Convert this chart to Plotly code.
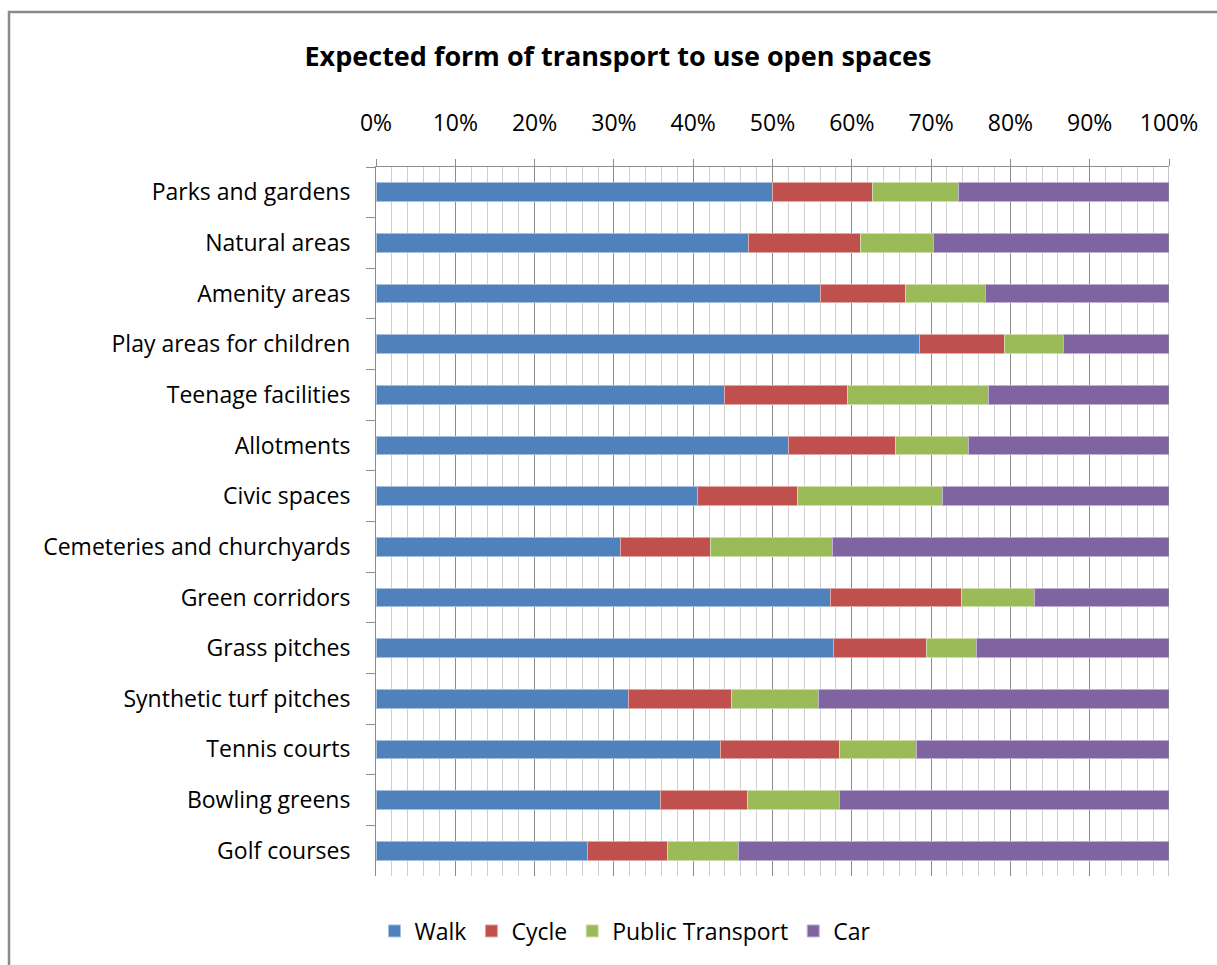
import plotly.graph_objects as go

categories = ["Parks and gardens", "Natural areas", "Amenity areas", "Play areas for children",
              "Teenage facilities", "Allotments", "Civic spaces", "Cemeteries and churchyards",
              "Green corridors", "Grass pitches", "Synthetic turf pitches", "Tennis courts",
              "Bowling greens", "Golf courses"]
walk = [50.0, 47.0, 56.0, 68.5, 43.9, 52.0, 40.6, 30.8, 57.3, 57.7, 31.8, 43.5, 35.9, 26.7]
cycle = [12.6, 14.1, 10.8, 10.7, 15.6, 13.5, 12.6, 11.4, 16.5, 11.7, 13.0, 14.9, 10.9, 10.1]
public_transport = [10.9, 9.2, 10.0, 7.5, 17.7, 9.2, 18.2, 15.4, 9.2, 6.3, 11.0, 9.8, 11.6, 8.9]
car = [26.5, 29.7, 23.2, 13.3, 22.8, 25.3, 28.6, 42.4, 17.0, 24.3, 44.2, 31.8, 41.6, 54.3]

series = [("Walk", walk, "#4F81BD", "#A7C0DE"),
          ("Cycle", cycle, "#C0504D", "#DFA7A6"),
          ("Public Transport", public_transport, "#9BBB59", "#CDDDAC"),
          ("Car", car, "#8064A2", "#BFB1D0")]

FONT = "'Open Sans', Lato, sans-serif"

fig = go.Figure()
for name, vals, col, edge in series:
    fig.add_trace(go.Bar(y=categories, x=vals, name=name, orientation="h",
                         marker=dict(color=col, line=dict(color=edge, width=1))))

W, H = 1217, 965
L, R, T, B = 376, 1169, 167, 876

fig.update_layout(
    width=W, height=H,
    margin=dict(l=L, r=W - R, t=T, b=H - B, autoexpand=False),
    barmode="stack", bargap=0.63,
    plot_bgcolor="white", paper_bgcolor="white",
    font=dict(family=FONT, size=23, color="#000000"),
    title=dict(text="<b>Expected form of transport to use open spaces</b>",
               x=618 / W, xanchor="center", xref="container",
               y=1 - 57 / H, yanchor="middle", yref="container",
               font=dict(family=FONT, size=27, color="#000000")),
    showlegend=True,
    legend=dict(orientation="h", x=625 / W, xanchor="center", xref="container",
                y=1 - 931 / H, yanchor="middle", yref="container",
                font=dict(family=FONT, size=23), traceorder="normal",
                itemwidth=30, tracegroupgap=0),
    xaxis=dict(side="top", range=[0, 100], dtick=10, ticksuffix="%",
               showgrid=True, gridcolor="#8C8C8C", gridwidth=1,
               minor=dict(dtick=2, showgrid=True, gridcolor="#CFCFCF", gridwidth=1),
               showline=True, linecolor="#8C8C8C", linewidth=1,
               ticks="outside", ticklen=7, tickcolor="#8C8C8C",
               ticklabelstandoff=19, zeroline=False, fixedrange=True),
    yaxis=dict(autorange="reversed", type="category",
               showline=True, linecolor="#8C8C8C", linewidth=1,
               ticks="outside", tickson="boundaries", ticklen=9, tickcolor="#8C8C8C",
               ticklabelstandoff=20, showgrid=False, fixedrange=True),
)

# right edge gridline at 100% and outer chart border
fig.add_shape(type="line", xref="x", yref="paper", x0=100, x1=100, y0=0, y1=1,
              line=dict(color="#8C8C8C", width=1))
px = lambda v: (v - L) / (R - L)
py = lambda v: (B - v) / (B - T)
fig.add_shape(type="rect", xref="paper", yref="paper",
              x0=px(9), x1=px(1240), y0=py(990), y1=py(12),
              line=dict(color="#8A8A8A", width=2.5), fillcolor="rgba(0,0,0,0)", layer="above")

fig.write_html("out.html")
